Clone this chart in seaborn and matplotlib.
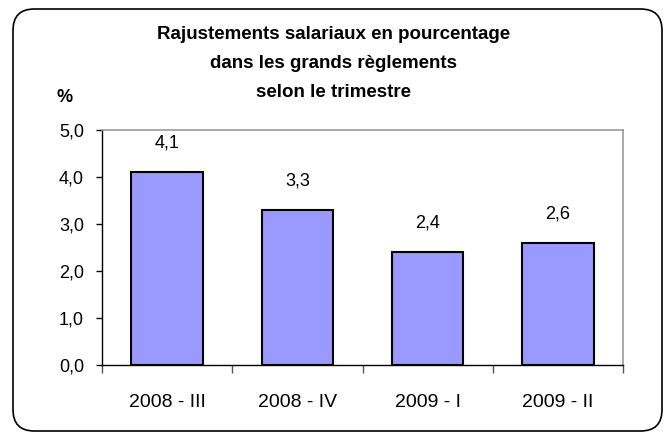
import matplotlib
matplotlib.use("Agg")
import matplotlib.pyplot as plt
import seaborn as sns
import pandas as pd
from matplotlib.patches import FancyBboxPatch

categories = ["2008 - III", "2008 - IV", "2009 - I", "2009 - II"]
values = [4.1, 3.3, 2.4, 2.6]
value_labels = ["4,1", "3,3", "2,4", "2,6"]
ytick_values = [0, 1, 2, 3, 4, 5]
ytick_labels = ["0,0", "1,0", "2,0", "3,0", "4,0", "5,0"]
title_lines = ["Rajustements salariaux en pourcentage",
               "dans les grands règlements",
               "selon le trimestre"]

sns.set_style("white")
plt.rcParams['font.family'] = ['Liberation Sans', 'DejaVu Sans']
plt.rcParams['text.color'] = 'black'
plt.rcParams['xtick.color'] = 'black'
plt.rcParams['ytick.color'] = 'black'
plt.rcParams['axes.labelcolor'] = 'black'

df = pd.DataFrame({"cat": categories, "val": values})

W, H = 667, 434
fig = plt.figure(figsize=(W/100, H/100), dpi=100)
ax = fig.add_axes([102/W, 1-365/H, (623-102)/W, (365-130)/H])

sns.barplot(data=df, x="cat", y="val", ax=ax, color="#9999FF", saturation=1,
            width=0.55, edgecolor="black", linewidth=1.5)

ax.set_ylim(0, 5)
ax.set_xlim(-0.5, 3.5)
ax.set_yticks(ytick_values)
ax.set_yticklabels(ytick_labels, fontsize=13)
ax.set_xticks([-0.5, 0.5, 1.5, 2.5, 3.5], minor=False)
ax.set_xticklabels([])
ax.set_xticks([0, 1, 2, 3], minor=True)
ax.set_xticklabels(categories, minor=True, fontsize=14)
ax.tick_params(axis="x", which="major", length=6, width=1, color="#555555", direction="out", bottom=True)
ax.tick_params(axis="x", which="minor", length=0, pad=21)
ax.tick_params(axis="y", length=4, width=1, color="black", direction="out", left=True, pad=9)
ax.set_xlabel("")
ax.set_ylabel("")

for s in ["left", "bottom"]:
    ax.spines[s].set_color("black")
    ax.spines[s].set_linewidth(1)
for s in ["top", "right"]:
    ax.spines[s].set_visible(True)
    ax.spines[s].set_color("#999999")
    ax.spines[s].set_linewidth(1.2)

for i, (v, lab) in enumerate(zip(values, value_labels)):
    ax.annotate(lab, (i, v), xytext=(0, 21), textcoords="offset points",
                ha="center", va="center", fontsize=13, color="black")

for yy, line in zip([39, 68, 97], title_lines):
    fig.text(334/W, 1-yy/H, line, ha="center", va="baseline", fontsize=13.5,
             fontweight="bold", color="black")
fig.text(65/W, 1-97/H, "%", ha="center", va="center", fontsize=13,
         fontweight="bold", color="black")

box = FancyBboxPatch((13/W, 3/H), (662-13)/W, (425-3)/H,
                     boxstyle="round,pad=0,rounding_size=0.032",
                     transform=fig.transFigure, fill=False, edgecolor="black",
                     linewidth=1.2, mutation_aspect=W/H)
fig.patches.append(box)

fig.savefig("out.png", dpi=100)
